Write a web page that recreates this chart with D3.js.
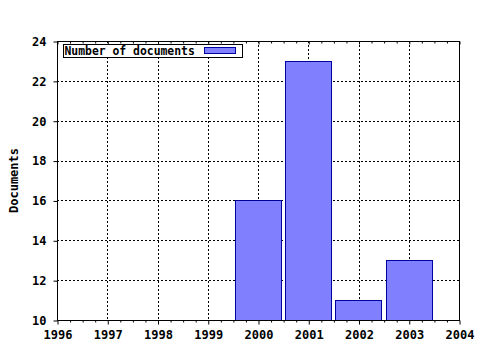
<!DOCTYPE html>
<html>
<head>
<meta charset="utf-8">
<script src="https://cdn.jsdelivr.net/npm/d3@7"></script>
<style>
  body { margin: 0; background: #fff; }
  text { font-family: "DejaVu Sans Mono", monospace; font-weight: bold; font-size: 12px; fill: #000; }
</style>
</head>
<body>
<div id="chart"></div>
<script>
'use strict';

var years = [2000, 2001, 2002, 2003];
var documents = [16, 23, 11, 13];
var xTicks = [1996, 1997, 1998, 1999, 2000, 2001, 2002, 2003, 2004];
var yTicks = [10, 12, 14, 16, 18, 20, 22, 24];
var seriesName = 'Number of documents';

function makeBarChart(containerSelector) {
  var width = 480;
  var height = 350;
  var margin = {top: 41, right: 21, bottom: 30, left: 57};

  var svg = d3.select(containerSelector)
              .append('svg')
              .attr('width', width)
              .attr('height', height);

  var x = d3.scaleLinear().domain([1996, 2004]).range([margin.left, width - margin.right]);
  var y = d3.scaleLinear().domain([10, 24]).range([height - margin.bottom, margin.top]);

  var x0 = x.range()[0], x1 = x.range()[1];
  var y0 = y.range()[0], y1 = y.range()[1];

  // grid
  svg.append('g')
     .selectAll('line')
     .data(xTicks.slice(1, -1))
     .enter().append('line')
       .attr('x1', function(d) { return Math.round(x(d)) + 0.5; })
       .attr('x2', function(d) { return Math.round(x(d)) + 0.5; })
       .attr('y1', y1)
       .attr('y2', y0)
       .attr('stroke', '#000')
       .attr('stroke-dasharray', '2,2');

  svg.append('g')
     .selectAll('line')
     .data(yTicks.slice(1, -1))
     .enter().append('line')
       .attr('x1', x0)
       .attr('x2', x1)
       .attr('y1', function(d) { return Math.round(y(d)) + 0.5; })
       .attr('y2', function(d) { return Math.round(y(d)) + 0.5; })
       .attr('stroke', '#000')
       .attr('stroke-dasharray', '2,2');

  // bars
  var barWidth = 0.92;
  svg.append('g')
     .selectAll('rect')
     .data(years)
     .enter().append('rect')
       .attr('x', function(d) { return Math.round(x(d - barWidth / 2)) + 0.5; })
       .attr('width', function(d) { return Math.round(x(d + barWidth / 2) - x(d - barWidth / 2)); })
       .attr('y', function(d, i) { return Math.round(y(documents[i])) + 0.5; })
       .attr('height', function(d, i) { return Math.round(y0 - y(documents[i])); })
       .attr('fill', '#8080ff')
       .attr('stroke', '#0000a0');

  // frame
  svg.append('rect')
     .attr('x', x0 + 0.5)
     .attr('y', y1 + 0.5)
     .attr('width', x1 - x0)
     .attr('height', y0 - y1)
     .attr('fill', 'none')
     .attr('stroke', '#000');

  // x axis
  var xAxis = d3.axisBottom(x).tickValues(xTicks).tickSize(4).tickPadding(6).tickFormat(d3.format('d'));
  svg.append('g')
     .attr('transform', 'translate(0.5,' + (y0 + 0.5) + ')')
     .call(xAxis)
     .call(function(g) { g.select('.domain').remove(); })
     .call(function(g) { g.selectAll('text').style('font-family', null).style('font-size', null); });

  var minorX = d3.range(1996, 2004.01, 0.25).filter(function(d) { return d % 1 !== 0; });
  svg.append('g')
     .attr('transform', 'translate(0.5,' + (y0 + 0.5) + ')')
     .call(d3.axisBottom(x).tickValues(minorX).tickSize(2).tickFormat(''))
     .call(function(g) { g.select('.domain').remove(); });
  svg.append('g')
     .attr('transform', 'translate(0.5,' + (y1 + 0.5) + ')')
     .call(d3.axisBottom(x).tickValues(minorX).tickSize(2).tickFormat(''))
     .call(function(g) { g.select('.domain').remove(); });
  svg.append('g')
     .attr('transform', 'translate(0.5,' + (y1 + 0.5) + ')')
     .call(d3.axisBottom(x).tickValues(xTicks).tickSize(3).tickFormat(''))
     .call(function(g) { g.select('.domain').remove(); });

  // y axis
  var yAxis = d3.axisLeft(y).tickValues(yTicks).tickSize(4).tickPadding(7);
  svg.append('g')
     .attr('transform', 'translate(' + (x0 + 0.5) + ',0.5)')
     .call(yAxis)
     .call(function(g) { g.select('.domain').remove(); })
     .call(function(g) { g.selectAll('text').style('font-family', null).style('font-size', null); });

  svg.append('text')
     .attr('transform', 'translate(18,' + ((y0 + y1) / 2) + ') rotate(-90)')
     .attr('text-anchor', 'middle')
     .text('Documents');

  // legend
  var legend = svg.append('g').attr('transform', 'translate(63.5,44.5)');
  legend.append('rect')
        .attr('width', 179)
        .attr('height', 13)
        .attr('fill', '#fff')
        .attr('stroke', '#000');
  legend.append('text')
        .attr('x', 1)
        .attr('y', 10)
        .style('font-size', '11.4px')
        .text(seriesName);
  legend.append('rect')
        .attr('x', 141)
        .attr('y', 3)
        .attr('width', 31)
        .attr('height', 6)
        .attr('fill', '#8080ff')
        .attr('stroke', '#0000a0');
}

makeBarChart('#chart');
</script>
</body>
</html>
